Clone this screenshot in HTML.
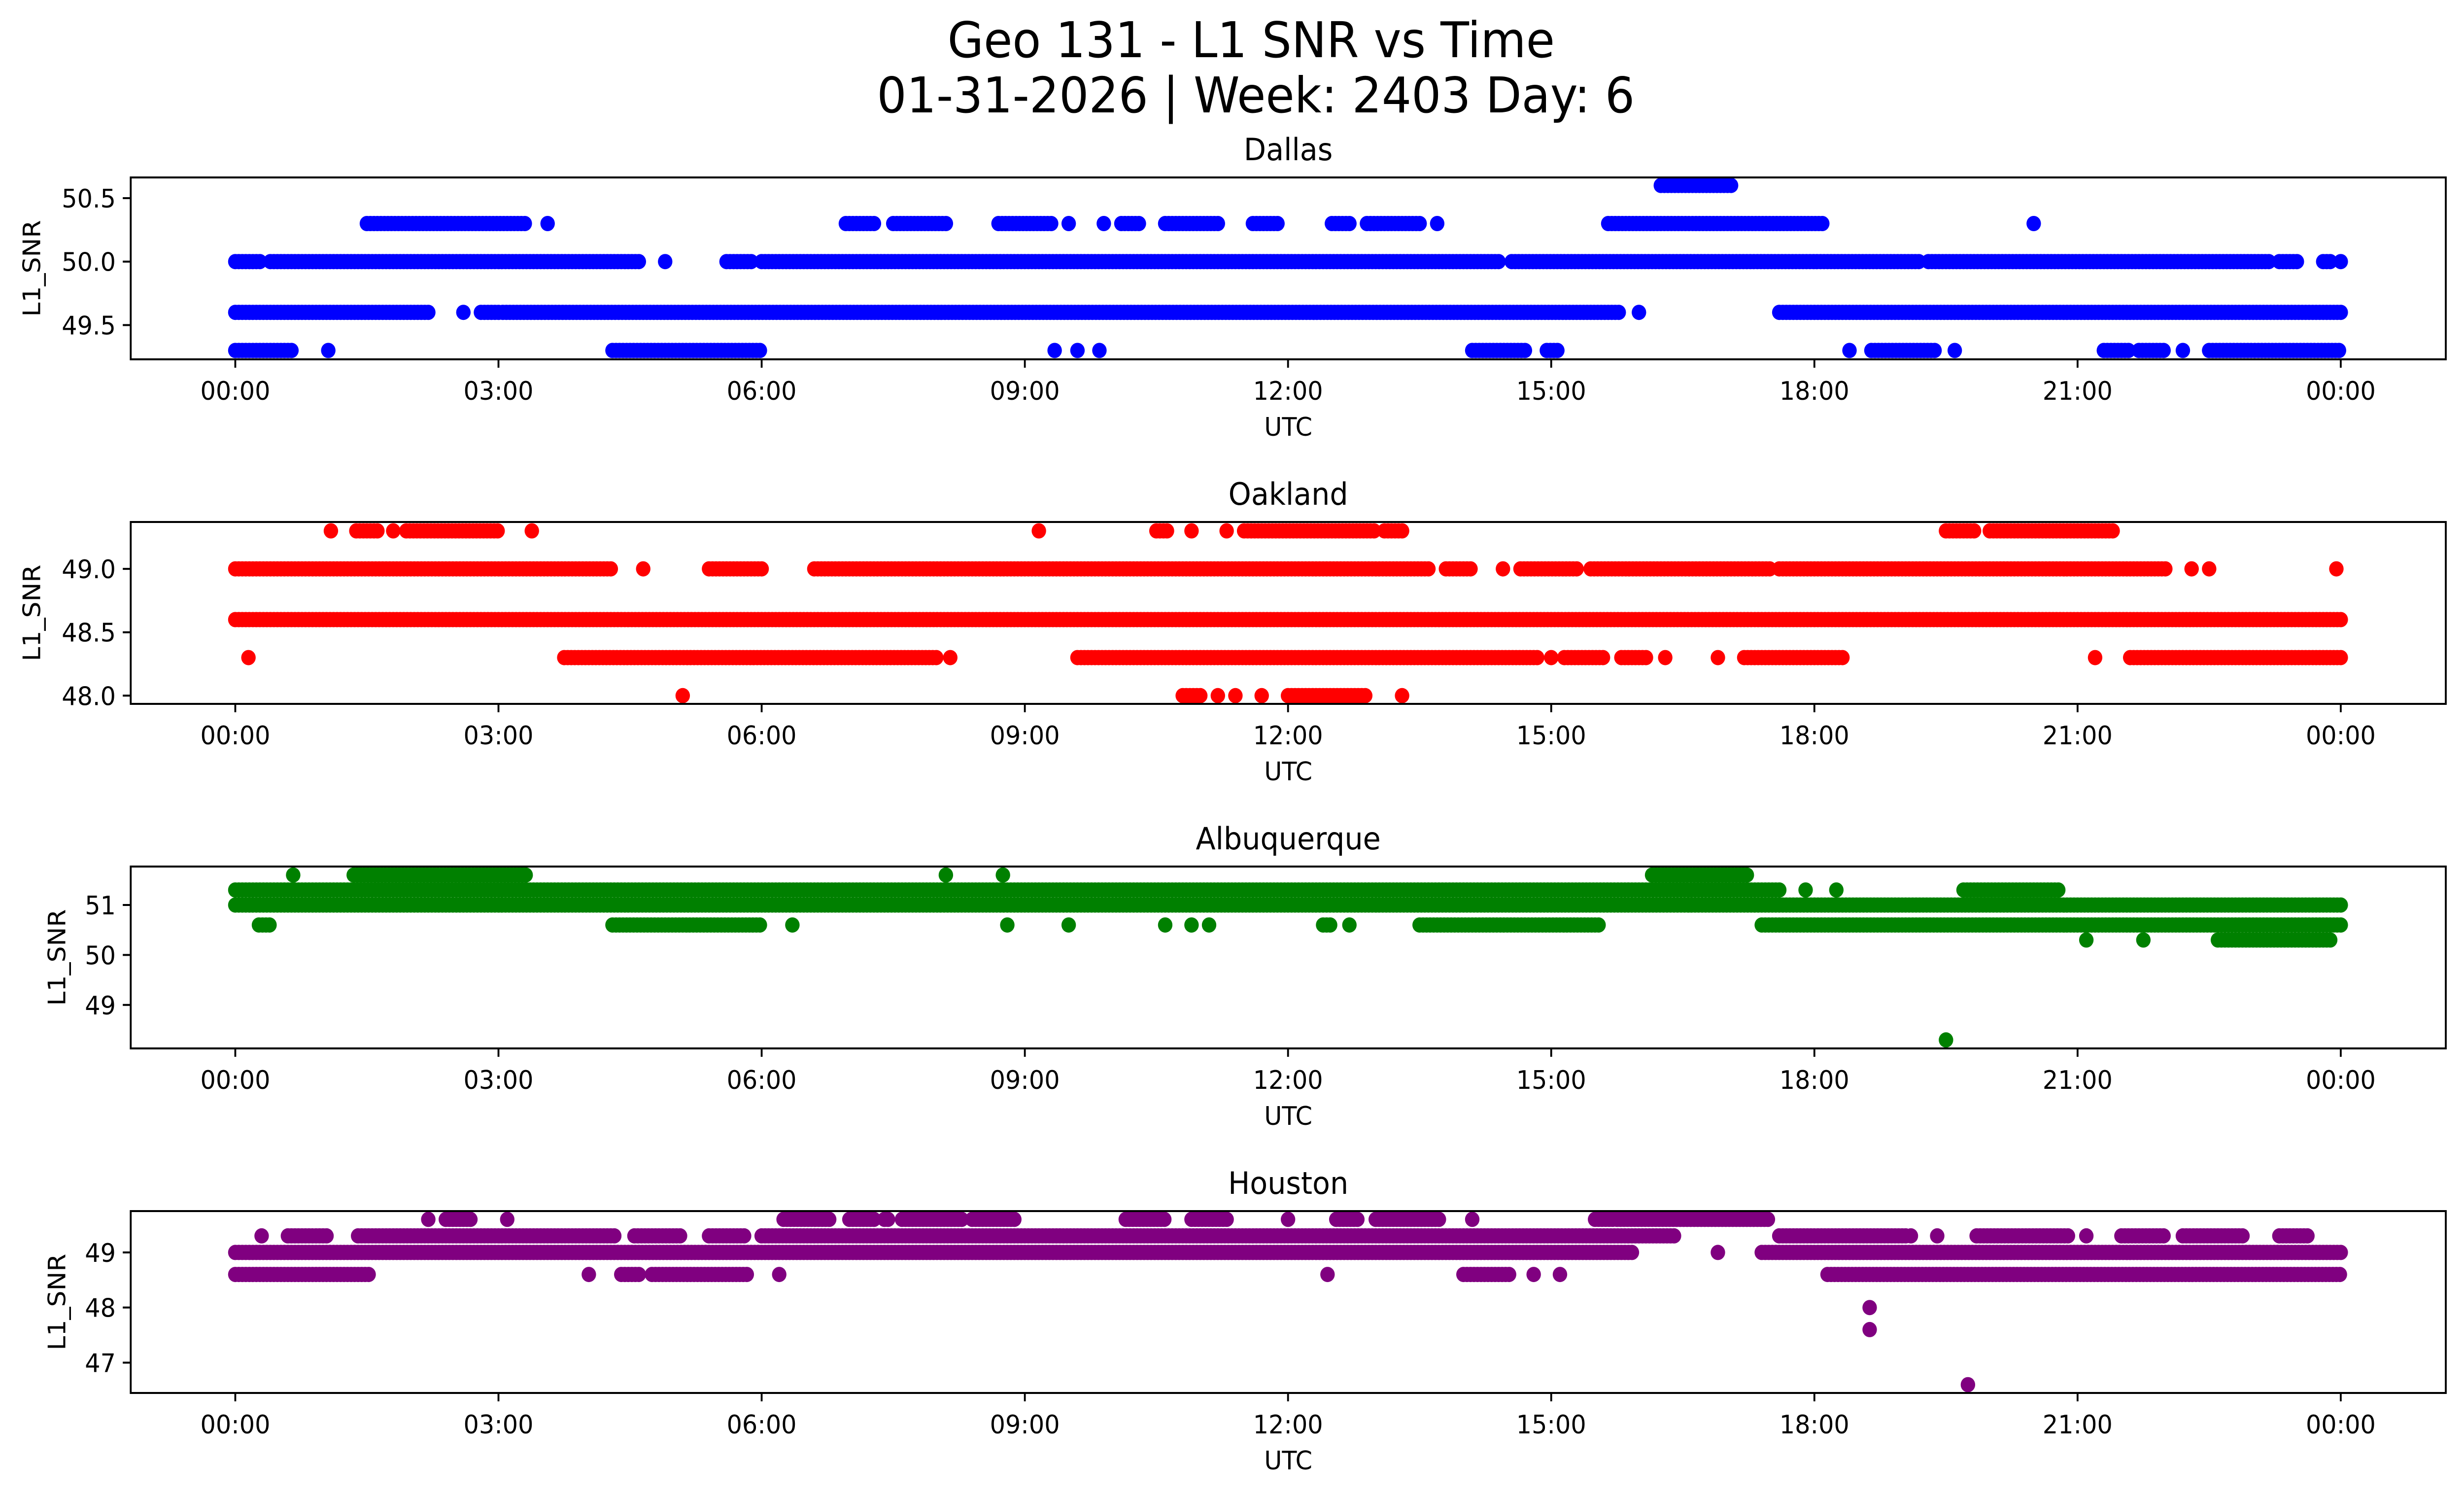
<!DOCTYPE html>
<html><head><meta charset="utf-8">
<style>
html,body{margin:0;padding:0;background:#fff;width:100%;height:100%;overflow:hidden;}
svg{display:block;width:100vw;height:100vh;font-family:"DejaVu Sans","Liberation Sans",sans-serif;}
</style></head>
<body>
<svg id="fig" xmlns="http://www.w3.org/2000/svg" viewBox="0 0 5278 3033" preserveAspectRatio="none">
<rect width="5278" height="3033" fill="#fff"/>
<text x="2680" y="116" font-size="100" text-anchor="middle">Geo 131 - L1 SNR vs Time</text>
<text x="2690" y="228" font-size="100" text-anchor="middle">01-31-2026 | Week: 2403 Day: 6</text>
<g id="panels"></g>
</svg>
<script>
// ---- data (hours UTC, SNR levels) ----
const panelNames = ["Dallas","Oakland","Albuquerque","Houston"];
const panelColors = ["#0000ff","#ff0000","#008000","#800080"];
const yMins = [49.23, 47.935, 48.13, 46.45];
const yMaxs = [50.663, 49.37, 51.77, 49.75];
const yTicks0 = [49.5, 50.0, 50.5];
const yTicks1 = [48.0, 48.5, 49.0];
const yTicks2 = [49, 50, 51];
const yTicks3 = [47, 48, 49];
const yTickLabels0 = ["49.5","50.0","50.5"];
const yTickLabels1 = ["48.0","48.5","49.0"];
const yTickLabels2 = ["49","50","51"];
const yTickLabels3 = ["47","48","49"];
const xTicks = [0,3,6,9,12,15,18,21,24];
const xTickLabels = ["00:00","03:00","06:00","09:00","12:00","15:00","18:00","21:00","00:00"];

// Dallas runs
const dalLevels = [50.6, 50.3,50.3,50.3,50.3,50.3,50.3,50.3,50.3,50.3,50.3,50.3,50.3,50.3,50.3,50.3, 50.0,50.0,50.0,50.0,50.0,50.0,50.0,50.0,50.0,50.0, 49.6,49.6,49.6,49.6,49.6,49.6, 49.3,49.3,49.3,49.3,49.3,49.3,49.3,49.3,49.3,49.3,49.3,49.3,49.3,49.3,49.3];
const dalStarts = [16.25, 1.5,3.56,6.96,7.5,8.7,9.5,9.9,10.1,10.6,11.6,12.5,12.9,13.7,15.65,20.5, 0,0.4,4.9,5.6,6.0,14.55,19.3,23.3,23.8,24, 0,2.6,2.8,3.05,16.0,17.6, 0,1.06,4.3,9.34,9.6,9.85,14.1,14.95,18.4,18.65,19.6,21.3,21.7,22.2,22.5];
const dalEnds   = [17.05, 3.33,3.56,7.28,8.1,9.3,9.5,9.9,10.3,11.2,11.9,12.7,13.5,13.7,18.1,20.5, 0.3,4.6,4.9,5.9,14.4,19.2,23.2,23.5,23.9,24, 2.2,2.6,3.0,15.8,16.0,24, 0.66,1.06,6.0,9.34,9.6,9.85,14.7,15.1,18.4,19.4,19.6,21.6,22.0,22.2,24];

// Oakland runs
const oakLevels = [49.3,49.3,49.3,49.3,49.3,49.3,49.3,49.3,49.3,49.3,49.3,49.3,49.3, 49.0,49.0,49.0,49.0,49.0,49.0,49.0,49.0,49.0,49.0,49.0,49.0, 48.6, 48.3,48.3,48.3,48.3,48.3,48.3,48.3,48.3,48.3,48.3,48.3,48.3, 48.0,48.0,48.0,48.0,48.0,48.0,48.0];
const oakStarts = [1.09,1.38,1.8,1.95,3.38,9.16,10.5,10.9,11.3,11.5,13.1,19.5,20.0, 0,4.65,5.4,6.6,13.8,14.45,14.65,15.45,17.6,22.3,22.5,23.95, 0, 0.15,3.75,8.15,9.6,15.0,15.15,15.8,16.3,16.9,17.2,21.2,21.6, 5.1,10.8,11.2,11.4,11.7,12.0,13.3];
const oakEnds   = [1.09,1.63,1.8,3.0,3.38,9.16,10.65,10.9,11.3,13.0,13.3,19.85,21.4, 4.3,4.65,6.0,13.6,14.1,14.45,15.3,17.5,22.0,22.3,22.5,23.95, 24, 0.15,8.0,8.15,14.85,15.0,15.6,16.1,16.3,16.9,18.35,21.2,24, 5.1,11.0,11.2,11.4,11.7,12.9,13.3];

// Albuquerque runs
const abqLevels = [51.6,51.6,51.6,51.6,51.6, 51.3,51.3,51.3,51.3, 51.0, 50.6,50.6,50.6,50.6,50.6,50.6,50.6,50.6,50.6,50.6,50.6,50.6, 50.3,50.3,50.3, 48.3];
const abqStarts = [0.66,1.35,8.1,8.75,16.15, 0,17.9,18.25,19.7, 0, 0.27,4.3,6.35,8.8,9.5,10.6,10.9,11.1,12.4,12.7,13.5,17.4, 21.1,21.75,22.6, 19.5];
const abqEnds   = [0.66,3.33,8.1,8.75,17.25, 17.6,17.9,18.25,20.8, 24, 0.41,6.0,6.35,8.8,9.5,10.6,10.9,11.1,12.5,12.7,15.55,24, 21.1,21.75,23.9, 19.5];

// Houston runs
const houLevels = [49.6,49.6,49.6,49.6,49.6,49.6,49.6,49.6,49.6,49.6,49.6,49.6,49.6,49.6,49.6,49.6, 49.3,49.3,49.3,49.3,49.3,49.3,49.3,49.3,49.3,49.3,49.3,49.3,49.3,49.3, 49.0,49.0,49.0, 48.6,48.6,48.6,48.6,48.6,48.6,48.6,48.6,48.6,48.6, 48.0,47.6,46.6];
const houStarts = [2.2,2.4,3.1,6.25,7.0,7.4,7.6,8.4,10.15,10.9,12.0,12.55,13.0,14.1,15.5,15.75, 0.3,0.6,1.4,4.55,5.4,6.0,17.6,19.1,19.4,19.85,21.1,21.5,22.2,23.3, 0,16.9,17.4, 0,4.03,4.4,4.75,6.2,12.45,14.0,14.8,15.1,18.15, 18.63,18.63,19.75];
const houEnds   = [2.2,2.7,3.1,6.8,7.3,7.45,8.3,8.9,10.6,11.3,12.0,12.8,13.75,14.1,15.7,17.5, 0.3,1.05,4.35,5.1,5.8,16.4,19.05,19.1,19.4,20.9,21.1,22.0,22.9,23.65, 15.95,16.9,24, 1.55,4.03,4.6,5.85,6.2,12.45,14.55,14.8,15.1,24, 18.63,18.63,19.75];

const runLevels = [dalLevels, oakLevels, abqLevels, houLevels];
const runStarts = [dalStarts, oakStarts, abqStarts, houStarts];
const runEnds = [dalEnds, oakEnds, abqEnds, houEnds];
const yTickSets = [yTicks0, yTicks1, yTicks2, yTicks3];
const yTickLabelSets = [yTickLabels0, yTickLabels1, yTickLabels2, yTickLabels3];

// ---- layout ----
const NS = "http://www.w3.org/2000/svg";
const AX_L = 280, AX_R = 5239, AX_H = 369, PANEL_STEP = 699, AX_TOP0 = 360;
const X0 = 504, X24 = 5014;
const DOT_R = 15.5;
function xScale(h){ return X0 + h * (X24 - X0) / 24; }
function mk(tag, attrs){ const e = document.createElementNS(NS, tag); for (const k in attrs) e.setAttribute(k, attrs[k]); return e; }

const root = document.getElementById("panels");
for (let p = 0; p < 4; p++) {
  const top = AX_TOP0 + p * PANEL_STEP, bot = top + AX_H;
  const yMin = yMins[p], yMax = yMaxs[p];
  const yScale = v => bot - (v - yMin) / (yMax - yMin) * AX_H;
  const g = mk("g", {});
  
  
  root.appendChild(g);

  const title = mk("text", {x: (AX_L + AX_R) / 2, y: top - 35, "font-size": 62, "text-anchor": "middle"});
  title.textContent = panelNames[p];
  
  
  g.appendChild(title);

  const dots = mk("g", {fill: panelColors[p]});
  
  
  g.appendChild(dots);
  const lv = runLevels[p], st = runStarts[p], en = runEnds[p];
  for (let i = 0; i < lv.length; i++) {
    const y = yScale(lv[i]);
    for (let h = st[i]; h <= en[i] + 1e-9; h += 0.04) {
      const c = mk("circle", {cx: xScale(h).toFixed(1), cy: y.toFixed(1), r: DOT_R});
      
      
      dots.appendChild(c);
    }
  }

  const frame = mk("rect", {x: AX_L, y: top, width: AX_R - AX_L, height: AX_H, fill: "none", stroke: "#000", "stroke-width": 4});
  
  
  g.appendChild(frame);

  for (let i = 0; i < xTicks.length; i++) {
    const x = xScale(xTicks[i]);
    const t = mk("line", {x1: x, x2: x, y1: bot, y2: bot + 17, stroke: "#000", "stroke-width": 4});
    
    
    g.appendChild(t);
    const lab = mk("text", {x: x, y: bot + 82, "font-size": 52, "text-anchor": "middle"});
    lab.textContent = xTickLabels[i];
    
    
    g.appendChild(lab);
  }
  const xl = mk("text", {x: (AX_L + AX_R) / 2, y: bot + 155, "font-size": 52, "text-anchor": "middle"});
  xl.textContent = "UTC";
  
  
  g.appendChild(xl);

  const yt = yTickSets[p], ytl = yTickLabelSets[p];
  let maxW = 0;
  for (let i = 0; i < yt.length; i++) {
    const y = yScale(yt[i]);
    const t = mk("line", {x1: AX_L - 17, x2: AX_L, y1: y, y2: y, stroke: "#000", "stroke-width": 4});
    
    
    g.appendChild(t);
    const lab = mk("text", {x: AX_L - 32, y: y + 19, "font-size": 52, "text-anchor": "end"});
    lab.textContent = ytl[i];
    
    
    g.appendChild(lab);
    maxW = Math.max(maxW, ytl[i].length);
  }
  const ylx = maxW >= 4 ? 86 : 140;
  const ymid = (top + bot) / 2;
  const yl = mk("text", {x: ylx, y: ymid, "font-size": 52, "text-anchor": "middle", transform: "rotate(-90 " + ylx + " " + ymid + ")"});
  yl.textContent = "L1_SNR";
  
  
  g.appendChild(yl);
}
</script>
</body></html>
